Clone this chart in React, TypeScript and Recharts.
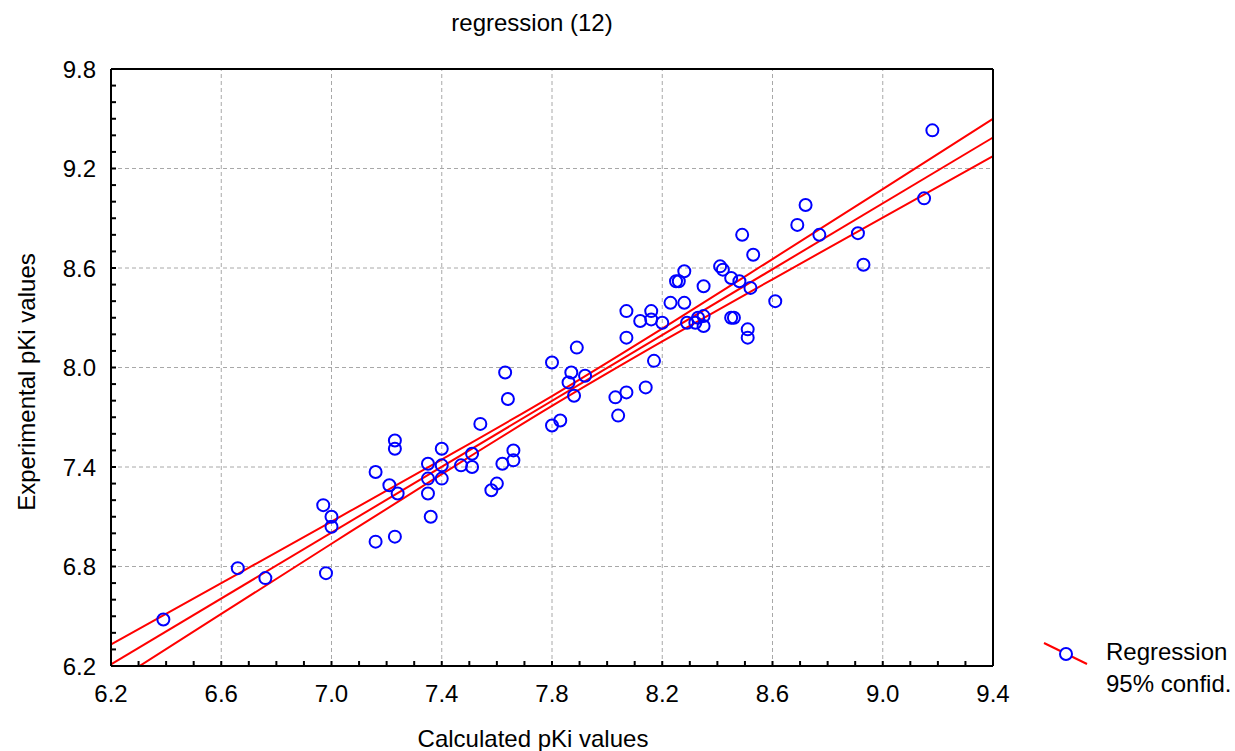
import {
  ComposedChart,
  Scatter,
  Line,
  XAxis,
  YAxis,
  ReferenceLine,
  Label,
} from "recharts";

const calculated = [
  6.39, 6.66, 6.76, 6.97, 6.98, 7.0, 7.0, 7.16, 7.16, 7.21,
  7.23, 7.23, 7.23, 7.24, 7.35, 7.35, 7.35, 7.36, 7.4, 7.4,
  7.4, 7.47, 7.51, 7.51, 7.54, 7.58, 7.6, 7.62, 7.63, 7.64,
  7.66, 7.66, 7.8, 7.8, 7.83, 7.86, 7.87, 7.88, 7.89, 7.92,
  8.03, 8.04, 8.07, 8.07, 8.07, 8.12, 8.14, 8.16, 8.16, 8.17,
  8.2, 8.23, 8.25, 8.26, 8.28, 8.28, 8.29, 8.32, 8.33, 8.35,
  8.35, 8.35, 8.41, 8.42, 8.45, 8.45, 8.46, 8.48, 8.49, 8.51,
  8.51, 8.52, 8.53, 8.61, 8.69, 8.72, 8.77, 8.91, 8.93, 9.15,
  9.18,
];
const experimental = [
  6.48, 6.79, 6.73, 7.17, 6.76, 7.1, 7.04, 6.95, 7.37, 7.29,
  6.98, 7.56, 7.51, 7.24, 7.42, 7.33, 7.24, 7.1, 7.51, 7.41,
  7.33, 7.41, 7.48, 7.4, 7.66, 7.26, 7.3, 7.42, 7.97, 7.81,
  7.5, 7.44, 8.03, 7.65, 7.68, 7.91, 7.97, 7.83, 8.12, 7.95,
  7.82, 7.71, 8.34, 8.18, 7.85, 8.28, 7.88, 8.34, 8.29, 8.04,
  8.27, 8.39, 8.52, 8.52, 8.58, 8.39, 8.27, 8.27, 8.3, 8.49,
  8.31, 8.25, 8.61, 8.59, 8.54, 8.3, 8.3, 8.52, 8.8, 8.23,
  8.18, 8.48, 8.68, 8.4, 8.86, 8.98, 8.8, 8.81, 8.62, 9.02,
  9.43,
];

// regression line and 95% band, read at the grid positions
const bandX = [6.2, 6.6, 7.0, 7.4, 7.8, 8.2, 8.6, 9.0, 9.4];
const fitted = [6.21, 6.607, 7.004, 7.401, 7.798, 8.196, 8.593, 8.99, 9.387];
const upper = [6.33, 6.7, 7.071, 7.445, 7.828, 8.235, 8.654, 9.076, 9.5];
const lower = [6.09, 6.514, 6.937, 7.357, 7.768, 8.157, 8.532, 8.904, 9.274];

const xTicks = [
  6.2, 6.3, 6.4, 6.5, 6.6, 6.7, 6.8, 6.9, 7.0, 7.1, 7.2, 7.3, 7.4, 7.5, 7.6,
  7.7, 7.8, 7.9, 8.0, 8.1, 8.2, 8.3, 8.4, 8.5, 8.6, 8.7, 8.8, 8.9, 9.0, 9.1,
  9.2, 9.3, 9.4,
];
const yTicks = [
  6.2, 6.3, 6.4, 6.5, 6.6, 6.7, 6.8, 6.9, 7.0, 7.1, 7.2, 7.3, 7.4, 7.5, 7.6,
  7.7, 7.8, 7.9, 8.0, 8.1, 8.2, 8.3, 8.4, 8.5, 8.6, 8.7, 8.8, 8.9, 9.0, 9.1,
  9.2, 9.3, 9.4, 9.5, 9.6, 9.7, 9.8,
];
const xLabels = [6.2, 6.6, 7.0, 7.4, 7.8, 8.2, 8.6, 9.0, 9.4];
const yLabels = [6.2, 6.8, 7.4, 8.0, 8.6, 9.2, 9.8];

const FONT = "'Liberation Sans', Arial, sans-serif";
const FS = 24;

const points = calculated.map((x, i) => ({ x, y: experimental[i] }));
const fitData = [
  { x: bandX[0], y: fitted[0] },
  { x: bandX[bandX.length - 1], y: fitted[fitted.length - 1] },
];
const upperData = bandX.map((x, i) => ({ x, y: upper[i] }));
const lowerData = bandX.map((x, i) => ({ x, y: lower[i] }));

const labelOf = (list: number[]) => (v: number) =>
  list.some((l) => Math.abs(l - v) < 1e-6) ? v.toFixed(1) : "";
const noLabel = () => "";

const axisLine = { stroke: "#000", strokeWidth: 2 };
const tickLine = { stroke: "#000", strokeWidth: 2 };
const tickStyle = { fill: "#000", fontSize: FS, fontFamily: FONT };
const gridStyle = { stroke: "#a8a8a8", strokeDasharray: "4 3", strokeWidth: 1 };

const ring = (p: any) => (
  <circle cx={p.cx} cy={p.cy} r={6} fill="none" stroke="#0000ff" strokeWidth={2} />
);

export default function App() {
  return (
    <div style={{ position: "absolute", left: 0, top: 0, width: 1235, height: 751, background: "#fff" }}>
      <ComposedChart
        width={1235}
        height={751}
        margin={{ top: 59, right: 232, bottom: 35, left: 51 }}
      >
        <XAxis
          xAxisId="x"
          type="number"
          dataKey="x"
          domain={[6.2, 9.4]}
          ticks={xTicks}
          interval={0}
          tickFormatter={labelOf(xLabels)}
          tickSize={-5}
          tickMargin={24}
          height={50}
          axisLine={axisLine}
          tickLine={tickLine}
          tick={tickStyle}
        >
          <Label
            content={() => (
              <text x={533} y={747} textAnchor="middle" fontSize={FS} fontFamily={FONT} fill="#000">
                Calculated pKi values
              </text>
            )}
          />
        </XAxis>
        <XAxis
          xAxisId="top"
          orientation="top"
          type="number"
          domain={[6.2, 9.4]}
          ticks={xTicks}
          interval={0}
          tickFormatter={noLabel}
          tickSize={-5}
          height={10}
          axisLine={axisLine}
          tickLine={tickLine}
          tick={tickStyle}
        >
          <Label
            content={() => (
              <text x={532} y={31} textAnchor="middle" fontSize={FS} fontFamily={FONT} fill="#000">
                regression (12)
              </text>
            )}
          />
        </XAxis>
        <YAxis
          yAxisId="y"
          type="number"
          dataKey="y"
          domain={[6.2, 9.8]}
          allowDataOverflow
          ticks={yTicks}
          interval={0}
          tickFormatter={labelOf(yLabels)}
          tickSize={-5}
          tickMargin={20}
          width={60}
          axisLine={axisLine}
          tickLine={tickLine}
          tick={tickStyle}
        >
          <Label
            content={() => (
              <text
                x={35}
                y={382}
                transform="rotate(-90 35 382)"
                textAnchor="middle"
                fontSize={FS}
                fontFamily={FONT}
                fill="#000"
              >
                Experimental pKi values
              </text>
            )}
          />
        </YAxis>
        <YAxis
          yAxisId="right"
          orientation="right"
          type="number"
          domain={[6.2, 9.8]}
          ticks={yTicks}
          interval={0}
          tickFormatter={noLabel}
          tickSize={-5}
          width={10}
          axisLine={axisLine}
          tickLine={tickLine}
          tick={tickStyle}
        />
        {xLabels.slice(1, -1).map((v) => (
          <ReferenceLine key={`gx${v}`} xAxisId="x" yAxisId="y" x={v} {...gridStyle} />
        ))}
        {yLabels.slice(1, -1).map((v) => (
          <ReferenceLine key={`gy${v}`} xAxisId="x" yAxisId="y" y={v} {...gridStyle} />
        ))}
        <Line
          xAxisId="x"
          yAxisId="y"
          data={upperData}
          dataKey="y"
          type="monotone"
          stroke="#ff0000"
          strokeWidth={2}
          dot={false}
          activeDot={false}
          isAnimationActive={false}
        />
        <Line
          xAxisId="x"
          yAxisId="y"
          data={fitData}
          dataKey="y"
          type="linear"
          stroke="#ff0000"
          strokeWidth={2}
          dot={false}
          activeDot={false}
          isAnimationActive={false}
        />
        <Line
          xAxisId="x"
          yAxisId="y"
          data={lowerData}
          dataKey="y"
          type="monotone"
          stroke="#ff0000"
          strokeWidth={2}
          dot={false}
          activeDot={false}
          isAnimationActive={false}
        />
        <Scatter
          xAxisId="x"
          yAxisId="y"
          data={points}
          shape={ring}
          isAnimationActive={false}
        />
      </ComposedChart>
      <div
        style={{
          position: "absolute",
          left: 1040,
          top: 638,
          fontFamily: FONT,
          fontSize: FS,
          lineHeight: "32px",
          color: "#000",
          display: "flex",
        }}
      >
        <svg width={52} height={30} style={{ marginTop: 2 }}>
          <line x1={4} y1={3} x2={47} y2={24} stroke="#ff0000" strokeWidth={2} />
          <circle cx={26} cy={14} r={6} fill="#fff" stroke="#0000ff" strokeWidth={2} />
        </svg>
        <div style={{ marginLeft: 14, marginTop: -2 }}>
          <div>Regression</div>
          <div>95% confid.</div>
        </div>
      </div>
    </div>
  );
}
